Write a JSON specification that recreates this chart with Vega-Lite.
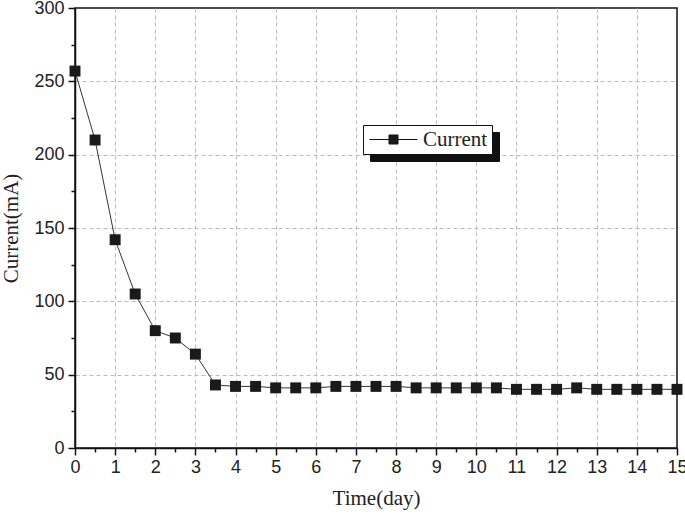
{
  "$schema": "https://vega.github.io/schema/vega-lite/v6.json",
  "width": 602,
  "height": 440,
  "autosize": "none",
  "padding": {"left": 75, "top": 8, "right": 8, "bottom": 68},
  "background": "white",
  "config": {
    "view": {"stroke": "#111", "strokeWidth": 1.5},
    "font": "Liberation Sans"
  },
  "data": {
    "values": [
      {"t": 0, "c": 257, "s": "Current", "sh": "Current "},
      {"t": 0.5, "c": 210, "s": "Current", "sh": "Current "},
      {"t": 1, "c": 142, "s": "Current", "sh": "Current "},
      {"t": 1.5, "c": 105, "s": "Current", "sh": "Current "},
      {"t": 2, "c": 80, "s": "Current", "sh": "Current "},
      {"t": 2.5, "c": 75, "s": "Current", "sh": "Current "},
      {"t": 3, "c": 64, "s": "Current", "sh": "Current "},
      {"t": 3.5, "c": 43, "s": "Current", "sh": "Current "},
      {"t": 4, "c": 42, "s": "Current", "sh": "Current "},
      {"t": 4.5, "c": 42, "s": "Current", "sh": "Current "},
      {"t": 5, "c": 41, "s": "Current", "sh": "Current "},
      {"t": 5.5, "c": 41, "s": "Current", "sh": "Current "},
      {"t": 6, "c": 41, "s": "Current", "sh": "Current "},
      {"t": 6.5, "c": 42, "s": "Current", "sh": "Current "},
      {"t": 7, "c": 42, "s": "Current", "sh": "Current "},
      {"t": 7.5, "c": 42, "s": "Current", "sh": "Current "},
      {"t": 8, "c": 42, "s": "Current", "sh": "Current "},
      {"t": 8.5, "c": 41, "s": "Current", "sh": "Current "},
      {"t": 9, "c": 41, "s": "Current", "sh": "Current "},
      {"t": 9.5, "c": 41, "s": "Current", "sh": "Current "},
      {"t": 10, "c": 41, "s": "Current", "sh": "Current "},
      {"t": 10.5, "c": 41, "s": "Current", "sh": "Current "},
      {"t": 11, "c": 40, "s": "Current", "sh": "Current "},
      {"t": 11.5, "c": 40, "s": "Current", "sh": "Current "},
      {"t": 12, "c": 40, "s": "Current", "sh": "Current "},
      {"t": 12.5, "c": 41, "s": "Current", "sh": "Current "},
      {"t": 13, "c": 40, "s": "Current", "sh": "Current "},
      {"t": 13.5, "c": 40, "s": "Current", "sh": "Current "},
      {"t": 14, "c": 40, "s": "Current", "sh": "Current "},
      {"t": 14.5, "c": 40, "s": "Current", "sh": "Current "},
      {"t": 15, "c": 40, "s": "Current", "sh": "Current "}
    ]
  },
  "encoding": {
    "x": {
      "field": "t", "type": "quantitative",
      "scale": {"domain": [0, 15], "nice": false, "zero": false},
      "axis": {
        "title": "Time(day)",
        "titleFont": "Liberation Serif", "titleFontSize": 21, "titleFontWeight": "normal", "titleColor": "#222",
        "titlePadding": 11,
        "values": [0,0.5,1,1.5,2,2.5,3,3.5,4,4.5,5,5.5,6,6.5,7,7.5,8,8.5,9,9.5,10,10.5,11,11.5,12,12.5,13,13.5,14,14.5,15],
        "labelExpr": "datum.value % 1 === 0 ? format(datum.value, 'd') : ''",
        "labelFontSize": 18, "labelColor": "#222", "labelPadding": 3, "labelFlush": false,
        "domainColor": "#111", "domainWidth": 1.5,
        "tickColor": "#111", "tickWidth": 1.5,
        "tickSize": {"condition": {"test": "datum.value % 1 === 0", "value": 7}, "value": 4},
        "grid": true,
        "gridDash": [4, 3], "gridColor": "#bbb", "gridWidth": 1,
        "gridOpacity": {"condition": {"test": "datum.value % 1 === 0 && datum.value > 0 && datum.value < 15", "value": 1}, "value": 0}
      }
    },
    "y": {
      "field": "c", "type": "quantitative",
      "scale": {"domain": [0, 300], "nice": false},
      "axis": {
        "title": "Current(mA)",
        "titleFont": "Liberation Serif", "titleFontSize": 21, "titleFontWeight": "normal", "titleColor": "#222",
        "titlePadding": 12,
        "values": [0,25,50,75,100,125,150,175,200,225,250,275,300],
        "labelExpr": "datum.value % 50 === 0 ? format(datum.value, 'd') : ''",
        "labelFontSize": 18, "labelColor": "#222", "labelPadding": 4, "labelFlush": false,
        "domainColor": "#111", "domainWidth": 1.5,
        "tickColor": "#111", "tickWidth": 1.5,
        "tickSize": {"condition": {"test": "datum.value % 50 === 0", "value": 7}, "value": 4},
        "grid": true,
        "gridDash": [4, 3], "gridColor": "#bbb", "gridWidth": 1,
        "gridOpacity": {"condition": {"test": "datum.value % 50 === 0 && datum.value > 0 && datum.value < 300", "value": 1}, "value": 0}
      }
    }
  },
  "layer": [
    {
      "mark": {"type": "point", "opacity": 0, "size": 1},
      "encoding": {
        "shape": {
          "field": "sh", "type": "nominal",
          "scale": {"range": ["M-2.67,0L-0.5,0M-0.5,-0.5L0.5,-0.5L0.5,0.5L-0.5,0.5ZM0.5,0L2.67,0"]},
          "legend": {
            "title": null,
            "orient": "none",
            "legendX": 295,
            "legendY": 124,
            "padding": 4,
            "strokeColor": "#111",
            "fillColor": "#111",
            "symbolType": "M-2.67,0L-0.5,0M-0.5,-0.5L0.5,-0.5L0.5,0.5L-0.5,0.5ZM0.5,0L2.67,0",
            "symbolOpacity": 0,
            "symbolSize": 324,
            "symbolOffset": 16,
            "labelFont": "Liberation Serif",
            "labelFontSize": 21,
            "labelColor": "#111",
            "labelOffset": 19
          }
        }
      }
    },
    {
      "mark": {"type": "line", "color": "#333", "strokeWidth": 1},
      "encoding": {}
    },
    {
      "mark": {"type": "point", "shape": "square", "filled": true, "size": 120, "opacity": 1},
      "encoding": {
        "color": {
          "field": "s", "type": "nominal",
          "scale": {"range": ["#1a1a1a"]},
          "legend": {
            "title": null,
            "orient": "none",
            "legendX": 288,
            "legendY": 117,
            "padding": 4,
            "strokeColor": "#111",
            "fillColor": "white",
            "symbolType": "M-2.67,0L-0.5,0M-0.5,-0.5L0.5,-0.5L0.5,0.5L-0.5,0.5ZM0.5,0L2.67,0",
            "symbolSize": 324,
            "symbolOffset": 16,
            "symbolStrokeWidth": 1,
            "symbolStrokeColor": "#111",
            "symbolFillColor": "#1a1a1a",
            "symbolOpacity": 1,
            "labelFont": "Liberation Serif",
            "labelFontSize": 21,
            "labelColor": "#222",
            "labelOffset": 19
          }
        }
      }
    }
  ]
}
